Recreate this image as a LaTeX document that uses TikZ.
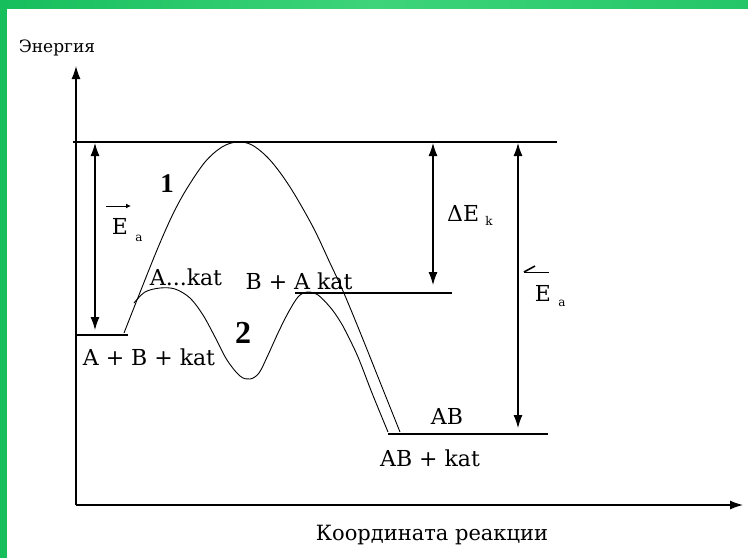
\documentclass[tikz,border=0pt]{standalone}
\usepackage{fontspec}
\setmainfont{DejaVu Serif}
\newfontfamily\numfont{Liberation Serif}
\usetikzlibrary{arrows.meta}
\definecolor{frameA}{RGB}{22,190,92}
\definecolor{frameB}{RGB}{62,212,122}
\definecolor{frameC}{RGB}{36,198,104}
\begin{document}
\begin{tikzpicture}[x=1pt,y=-1pt,
  lbl/.style={inner sep=0pt, font=\fontsize{22}{24}\selectfont},
  sub/.style={inner sep=0pt, font=\fontsize{12}{14}\selectfont},
  tip/.style={Latex[length=13pt,width=9pt]},
  darr/.style={{Latex[length=13pt,width=9pt]}-{Latex[length=13pt,width=9pt]}, line width=1.1pt},
  level/.style={line width=1.3pt},
  curve/.style={line width=0.9pt}]
\useasboundingbox (0,0) rectangle (748,558);
\fill[white] (0,0) rectangle (748,558);
\shade[left color=frameA, right color=frameC, middle color=frameB] (0,0) rectangle (748,8);
\fill[frameA] (0,0) rectangle (7,558);

% axes
\coordinate (O) at (76,505);
\coordinate (Ytop) at (76,66);
\coordinate (Xend) at (743,505);
\draw[line width=1.3pt, -{Latex[length=13pt,width=9pt]}] (O) -- (Ytop);
\draw[line width=1.3pt, -{Latex[length=13pt,width=9pt]}] (O) -- (Xend);
\node[inner sep=0pt, font=\fontsize{17}{19}\selectfont] (ylab) at (57,48) {Энергия};
\node[inner sep=0pt, font=\fontsize{21}{23}\selectfont] (xlab) at (432,535) {Координата реакции};

% levels
\coordinate (T1) at (73,142);  \coordinate (T2) at (557,142);
\coordinate (R1) at (76,335);  \coordinate (R2) at (128,335);
\coordinate (M1) at (295,293); \coordinate (M2) at (452,293);
\coordinate (P1) at (388,434); \coordinate (P2) at (548,434);
\draw[level] (T1) -- (T2);
\draw[level] (R1) -- (R2);
\draw[level] (M1) -- (M2);
\draw[level] (P1) -- (P2);

% energy arrows
\coordinate (a1t) at (95,143);  \coordinate (a1b) at (95,330);
\coordinate (a2t) at (433,143); \coordinate (a2b) at (433,285);
\coordinate (a3t) at (518,143); \coordinate (a3b) at (518,428);
\draw[darr] (a1t) -- (a1b);
\draw[darr] (a2t) -- (a2b);
\draw[darr] (a3t) -- (a3b);

% curve 1
\draw[curve] plot[smooth, tension=0.55] coordinates {
 (124,333) (137,300) (157,250) (172,216) (186,190) (205,162) (222,147) (237,142)
 (252,145) (270,160) (290,187) (313,227) (330,263) (343,291) (360,332) (380,382) (400,432)};
% curve 2
\draw[curve] plot[smooth, tension=0.55] coordinates {
 (134,303) (145,292) (160,288) (175,289) (190,298) (203,315) (215,337) (227,360)
 (240,376) (250,379) (259,373) (268,355) (278,333) (288,313) (298,297) (307,292)
 (318,295) (330,307) (338,318) (345,330) (358,357) (372,393) (388,432)};

% labels
\node[lbl] (lR) at (149,357) {A + B + kat};
\node[lbl] (lAk) at (186,277) {A...kat};
\node[lbl] (lBA) at (299,281) {B + A kat};
\node[lbl] (lAB) at (447,416) {AB};
\node[lbl] (lABk) at (430,458) {AB + kat};
\node[inner sep=0pt, font=\numfont\bfseries\fontsize{27}{29}\selectfont] (n1) at (167,184) {1};
\node[inner sep=0pt, font=\numfont\bfseries\fontsize{32}{34}\selectfont] (n2) at (243,333) {2};

% Ea forward
\node[lbl] (E1) at (120,226) {E};
\node[sub] (E1s) at (139,238) {a};
\coordinate (h1a) at (106,206); \coordinate (h1b) at (131,206);
\draw[line width=1pt, -{Latex[length=5pt,width=5pt]}] (h1a) -- (h1b);

% dE_k
\node[lbl, anchor=west] (dE) at (447,213) {ΔE};
\node[sub] (dEs) at (489,221) {k};

% Ea reverse
\node[lbl] (E2) at (543,293) {E};
\node[sub] (E2s) at (562,303) {a};
\coordinate (h2a) at (549,272); \coordinate (h2b) at (524,272); \coordinate (h2c) at (535,266);
\draw[line width=1pt] (h2a) -- (h2b);
\draw[line width=1.6pt] (h2b) -- (h2c);
\end{tikzpicture}
\end{document}
